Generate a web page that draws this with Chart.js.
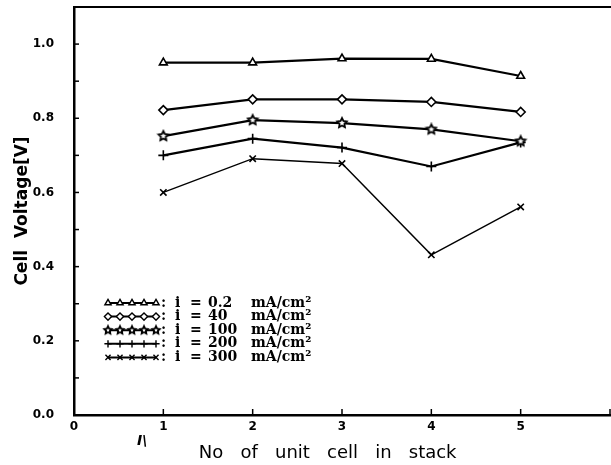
<!DOCTYPE html>
<html>
<head>
<meta charset="utf-8">
<script src="https://cdn.jsdelivr.net/npm/chart.js@4/dist/chart.umd.min.js"></script>
<style>
html,body{margin:0;padding:0;background:#fff;}
#wrap{width:611px;height:465px;position:relative;}
</style>
</head>
<body>
<div id="wrap"><canvas id="c"></canvas></div>
<script>
// ---- data ----
const cellNumbers = [1, 2, 3, 4, 5];
const v_0_2 = [0.950, 0.950, 0.961, 0.960, 0.914];
const v_40  = [0.822, 0.851, 0.851, 0.844, 0.817];
const v_100 = [0.752, 0.795, 0.787, 0.770, 0.738];
const v_200 = [0.700, 0.745, 0.721, 0.670, 0.735];
const v_300 = [0.600, 0.691, 0.678, 0.432, 0.561];
const currentLabels = ['0.2', '40', '100', '200', '300'];
const unitLabel = 'mA/cm²';
const xTickLabels = ['0', '1', '2', '3', '4', '5'];
const yTickLabels = ['0.0', '0.2', '0.4', '0.6', '0.8', '1.0'];

// star marker
function makeStar(r) {
  const s = Math.ceil(r * 2 + 4);
  const cv = document.createElement('canvas');
  cv.width = s; cv.height = s;
  const g = cv.getContext('2d');
  g.translate(s / 2, s / 2);
  g.beginPath();
  for (let i = 0; i < 10; i++) {
    const rr = i % 2 === 0 ? r : r * 0.5;
    const a = -Math.PI / 2 + i * Math.PI / 5;
    const px = Math.cos(a) * rr, py = Math.sin(a) * rr;
    if (i === 0) g.moveTo(px, py); else g.lineTo(px, py);
  }
  g.closePath();
  g.fillStyle = '#fff';
  g.fill();
  g.lineWidth = 1.8;
  g.strokeStyle = '#000';
  g.stroke();
  return cv;
}
const starImg = makeStar(5);
const starSmall = makeStar(4);

const seriesValues = [v_0_2, v_40, v_100, v_200, v_300];
const styles = [
  {pointStyle: 'triangle', legendStyle: 'triangle', radius: 4.5, lw: 2.2},
  {pointStyle: 'rectRot', legendStyle: 'rectRot', radius: 4.5, lw: 2.2},
  {pointStyle: starImg, legendStyle: starSmall, radius: 5, lw: 2.2},
  {pointStyle: 'cross', legendStyle: 'cross', radius: 5, lw: 2.2},
  {pointStyle: 'crossRot', legendStyle: 'crossRot', radius: 4.5, lw: 1.4}
];

const datasets = seriesValues.map((vals, i) => ({
  label: 'i = ' + currentLabels[i] + ' ' + unitLabel,
  data: cellNumbers.map((x, k) => ({x: x, y: vals[k]})),
  borderColor: '#000',
  backgroundColor: '#fff',
  borderWidth: styles[i].lw,
  pointStyle: styles[i].pointStyle,
  pointRadius: styles[i].radius,
  pointBorderWidth: 1.6,
  pointBorderColor: '#000',
  pointBackgroundColor: '#fff',
  tension: 0,
  fill: false
}));

const decor = {
  id: 'decor',
  afterDraw(chart) {
    const ctx = chart.ctx;
    const a = chart.chartArea;
    const xs = chart.scales.x, ys = chart.scales.y;
    ctx.save();
    ctx.strokeStyle = '#000';
    // top frame
    ctx.lineWidth = 2;
    ctx.beginPath();
    ctx.moveTo(a.left - 1, a.top);
    ctx.lineTo(chart.width, a.top);
    ctx.stroke();
    // inward ticks
    ctx.lineWidth = 1.5;
    for (let k = 1; k <= 10; k++) {
      const py = ys.getPixelForValue(k / 10);
      ctx.beginPath();
      ctx.moveTo(a.left, py);
      ctx.lineTo(a.left + 5, py);
      ctx.stroke();
    }
    for (let k = 1; k <= 6; k++) {
      const px = xs.getPixelForValue(k);
      ctx.beginPath();
      ctx.moveTo(px, a.bottom);
      ctx.lineTo(px, a.bottom - 6);
      ctx.stroke();
    }
    // legend
    const x0 = 108, x1 = 156, y0 = 303, dy = 13.6;
    chart.data.datasets.forEach((ds, i) => {
      const y = y0 + i * dy;
      ctx.lineWidth = 2;
      ctx.strokeStyle = '#000';
      ctx.beginPath();
      ctx.moveTo(x0, y);
      ctx.lineTo(x1, y);
      ctx.stroke();
      for (let m = 0; m < 5; m++) {
        const px = x0 + m * (x1 - x0) / 4;
        ctx.fillStyle = '#fff';
        ctx.strokeStyle = '#000';
        ctx.lineWidth = 1.4;
        Chart.helpers.drawPoint(ctx, {
          pointStyle: styles[i].legendStyle,
          radius: 3.6,
          rotation: 0,
          borderWidth: 1.4
        }, px, y);
      }
      ctx.fillStyle = '#000';
      ctx.font = 'bold 14px "DejaVu Serif"';
      ctx.textBaseline = 'middle';
      ctx.textAlign = 'left';
      ctx.fillText(':', 161, y);
      ctx.fillText('i', 175, y);
      ctx.fillText('=', 190, y);
      ctx.fillText(currentLabels[i], 208, y);
      ctx.fillText(unitLabel, 251, y);
    });
    // stray mark
    ctx.font = 'italic bold 14px "DejaVu Sans"';
    ctx.fillText('I\\', 137, 441);
    ctx.restore();
  }
};

new Chart(document.getElementById('c'), {
  type: 'line',
  data: {datasets: datasets},
  options: {
    responsive: true,
    maintainAspectRatio: false,
    animation: false,
    layout: {autoPadding: false, padding: {top: 7, right: 1, left: 0, bottom: 0}},
    plugins: {legend: {display: false}, tooltip: {enabled: false}},
    scales: {
      x: {
        type: 'linear', min: 0, max: 6, position: 'bottom',
        grid: {display: false, drawTicks: false},
        border: {display: true, color: '#000', width: 2.5},
        ticks: {
          stepSize: 1, autoSkip: false, maxRotation: 0, padding: 5,
          color: '#000', font: {family: 'DejaVu Sans', size: 12, weight: 'bold'},
          callback: (v) => (Number.isInteger(v) && v < xTickLabels.length) ? xTickLabels[v] : ''
        },
        title: {
          display: true, text: 'No   of   unit   cell   in   stack     ', color: '#000',
          font: {family: 'DejaVu Sans', size: 18}, padding: {top: 0, bottom: 1}
        },
        afterFit: (s) => { s.height = 50; s.paddingLeft = 0; s.paddingRight = 0; }
      },
      y: {
        min: 0, max: 1.1,
        grid: {display: false, drawTicks: false},
        border: {display: true, color: '#000', width: 2.5},
        ticks: {
          stepSize: 0.2, padding: 20, color: '#000',
          font: {family: 'DejaVu Sans', size: 12, weight: 'bold'},
          callback: (v) => { const k = Math.round(v * 5); return (Math.abs(v * 5 - k) < 1e-6 && k < yTickLabels.length) ? yTickLabels[k] : ''; }
        },
        title: {
          display: true, text: 'Cell  Voltage[V]', color: '#000',
          font: {family: 'DejaVu Sans', size: 17, weight: 'bold'}, padding: {top: 12, bottom: 0}
        },
        afterFit: (s) => { s.width = 74; s.paddingTop = 0; s.paddingBottom = 0; }
      }
    }
  },
  plugins: [decor]
});
</script>
</body>
</html>
